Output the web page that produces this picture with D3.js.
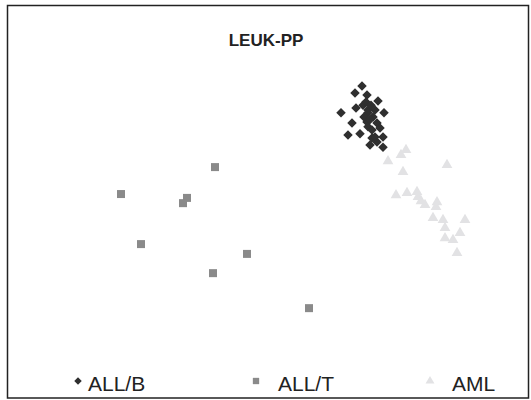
<!DOCTYPE html>
<html>
<head>
<meta charset="utf-8">
<script src="https://cdn.jsdelivr.net/npm/d3@7"></script>
<style>
  body{margin:0;background:#fff;}
  svg{display:block;font-family:Arial,"Liberation Sans",sans-serif;}
</style>
</head>
<body>
<div id="chart"></div>
<script>
// projection coordinates
var allB = [
  [6.84,7.26],[6.70,7.06],[6.94,7.00],[7.16,6.83],[6.42,6.49],[6.72,6.63],
  [6.86,6.71],[6.96,6.57],[7.10,6.57],[7.28,6.49],[6.96,6.49],[7.06,6.37],
  [6.64,6.20],[6.94,6.23],[7.14,6.20],[6.96,6.09],[7.04,6.00],[7.20,6.06],
  [6.56,5.86],[6.80,5.89],[7.04,5.77],[7.26,5.80],[7.14,5.66],[7.00,5.57],
  [7.26,5.51],[6.92,6.80],[7.02,6.71],[6.88,6.37],[7.10,5.80],[7.00,6.30]
];
var allT = [
  [3.90,4.94],[2.02,4.17],[3.34,4.06],[3.26,3.91],[2.42,2.74],
  [4.54,2.46],[3.86,1.91],[5.78,0.91]
];
var aml = [
  [7.36,5.11],[7.62,5.29],[7.72,5.43],[7.66,4.80],[8.54,5.00],[7.52,4.14],
  [7.74,4.20],[7.94,4.23],[7.96,4.09],[8.02,3.97],[8.10,3.86],[8.34,3.94],
  [8.32,3.80],[8.26,3.49],[8.46,3.43],[8.50,3.20],[8.90,3.43],[8.80,3.06],
  [8.50,2.91],[8.66,2.86],[8.74,2.49]
];
var seriesNames = ["ALL/B","ALL/T","AML"];
var title = "LEUK-PP";

var W = 531, H = 400;
var svg = d3.select("#chart").append("svg")
  .attr("width",W).attr("height",H);

svg.append("rect")
  .attr("x",7.5).attr("y",5.5)
  .attr("width",521).attr("height",392.5)
  .attr("fill","#fff")
  .attr("stroke","#222")
  .attr("stroke-width",1.5);

svg.append("text")
  .attr("x",266).attr("y",46)
  .attr("text-anchor","middle")
  .style("font-size","17px")
  .style("font-weight","bold")
  .style("fill","#222")
  .text(title);

var x = d3.scaleLinear().domain([0,10]).range([20,520]);
var y = d3.scaleLinear().domain([0,8]).range([340,60]);

var symDiamond = d3.symbol().type(d3.symbolDiamond2).size(58);
var symSquare = d3.symbol().type(d3.symbolSquare).size(64);
var symTri = d3.symbol().type(d3.symbolTriangle).size(50);

var styles = [
  {data:allB, sym:symDiamond, fill:"#2f2f2f"},
  {data:allT, sym:symSquare, fill:"#8a8a8a"},
  {data:aml, sym:symTri, fill:"#e2e2e4"}
];

// draw light ones first so dark diamonds sit on top
[2,1,0].forEach(function(k){
  var s = styles[k];
  svg.append("g").selectAll("path")
    .data(s.data)
    .enter()
    .append("path")
    .attr("d",s.sym)
    .attr("fill",s.fill)
    .attr("transform",function(d){
      return "translate(" + x(d[0]) + "," + y(d[1]) + ")";
    });
});

// legend
var legX = [78,256,430];
var leg = svg.append("g");
seriesNames.forEach(function(name,i){
  var s = styles[i];
  var sz = i==0 ? 36 : (i==1 ? 40 : 34);
  leg.append("path")
    .attr("d",d3.symbol().type(s.sym.type()).size(sz))
    .attr("fill",s.fill)
    .attr("transform","translate(" + legX[i] + ",381)");
  leg.append("text")
    .attr("x",legX[i] + (i==0 ? 10 : 22))
    .attr("y",391)
    .style("font-size","21px")
    .style("fill","#222")
    .text(name);
});
</script>
</body>
</html>
